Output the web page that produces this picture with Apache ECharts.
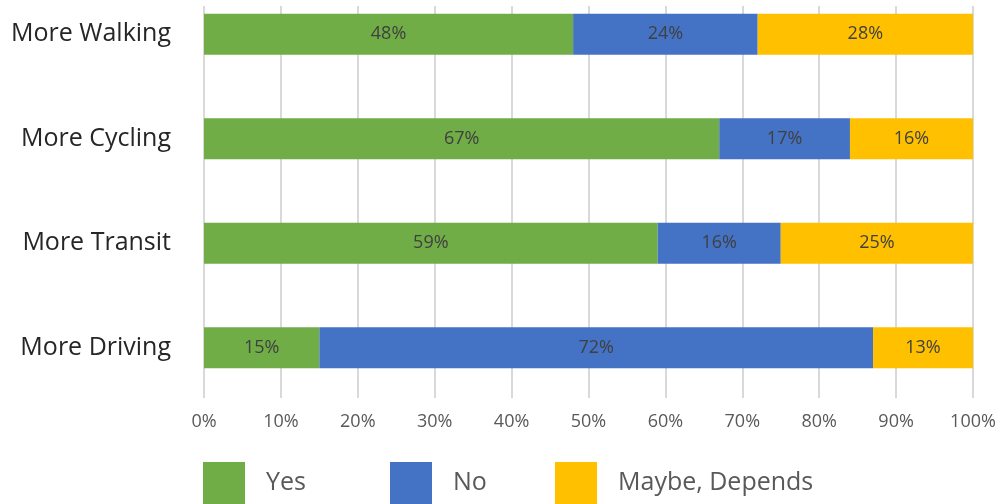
<!DOCTYPE html>
<html>
<head>
<meta charset="utf-8">
<script src="https://cdn.jsdelivr.net/npm/echarts@6/dist/echarts.min.js"></script>
<style>
html,body{margin:0;padding:0;background:#fff;}
#chart{width:1003px;height:504px;}
</style>
</head>
<body>
<div id="chart"></div>
<script>
const categories = ['More Walking', 'More Cycling', 'More Transit', 'More Driving'];
const yesValues = [48, 67, 59, 15];
const noValues = [24, 17, 16, 72];
const maybeValues = [28, 16, 25, 13];
const xTicks = [0, 10, 20, 30, 40, 50, 60, 70, 80, 90, 100];
const seriesNames = ['Yes', 'No', 'Maybe, Depends'];
const colors = ['#70AD47', '#4472C4', '#FFC000'];

const chart = echarts.init(document.getElementById('chart'));
const font = '"Open Sans", sans-serif';
const valueSets = [yesValues, noValues, maybeValues];

const legendPos = [203, 390, 555];
const legends = seriesNames.map((n, i) => ({
  data: [n],
  left: legendPos[i],
  top: 462,
  itemWidth: 42,
  itemHeight: 42,
  itemGap: 0,
  padding: 0,
  selectedMode: false,
  textStyle: { fontFamily: font, fontSize: 25, color: '#595959', padding: [0, 0, 0, 16] },
  icon: 'rect'
}));

chart.setOption({
  animation: false,
  color: colors,
  legend: legends,
  grid: [
    { left: 204, right: 30, top: 6, bottom: 106 },
    { left: 204, right: 30, top: 34.25, bottom: 156.25 }
  ],
  xAxis: [
    {
      gridIndex: 0,
      type: 'value',
      min: 0, max: 100, interval: 10,
      axisLine: { show: false },
      axisTick: { show: false },
      splitLine: { show: true, lineStyle: { color: '#d9d9d9', width: 2 } },
      axisLabel: {
        formatter: v => xTicks.includes(v) ? v + '%' : '',
        color: '#595959', fontFamily: font, fontSize: 18, margin: 15
      }
    },
    {
      gridIndex: 1,
      type: 'value',
      min: 0, max: 100,
      show: false
    }
  ],
  yAxis: [
    {
      gridIndex: 0,
      type: 'category',
      data: categories,
      show: false
    },
    {
      gridIndex: 1,
      type: 'category',
      data: categories,
      inverse: true,
      boundaryGap: false,
      axisLine: { show: false },
      axisTick: { show: false },
      splitLine: { show: false },
      axisLabel: { color: '#262626', fontFamily: font, fontSize: 25, margin: 33 }
    }
  ],
  series: seriesNames.map((n, i) => ({
    name: n,
    type: 'bar',
    stack: 'total',
    xAxisIndex: 1,
    yAxisIndex: 1,
    barWidth: 41,
    clip: false,
    data: valueSets[i],
    itemStyle: { color: colors[i] },
    label: {
      show: true, position: 'inside',
      formatter: p => p.value + '%',
      color: '#404040', fontFamily: font, fontSize: 18
    }
  }))
});
</script>
</body>
</html>
